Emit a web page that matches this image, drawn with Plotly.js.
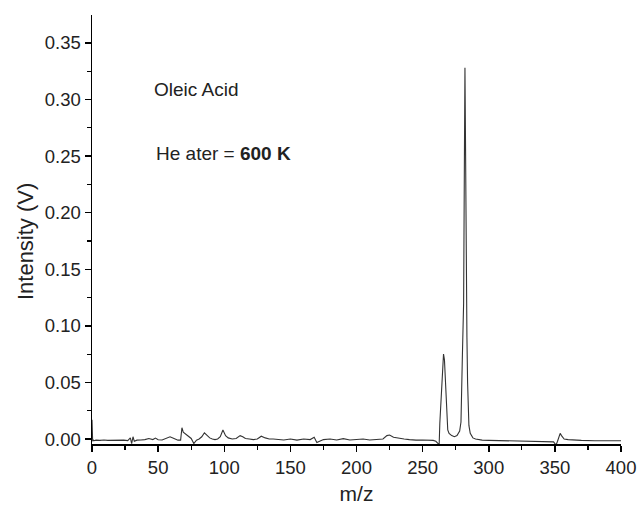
<!DOCTYPE html>
<html>
<head>
<meta charset="utf-8">
<script src="https://cdn.plot.ly/plotly-3.0.1.min.js"></script>
<style>html,body{margin:0;padding:0;background:#fff;}#chart{width:637px;height:505px;}</style>
</head>
<body>
<div id="chart"></div>
<script>
const mz = [0, 0.5, 1, 1.5, 3, 6, 9, 12, 15, 18, 21, 24, 27, 29, 30, 31, 32, 34, 37, 40, 43, 46, 48, 50, 53, 56, 59, 62, 65, 67, 68, 69, 71, 73, 75, 77, 79, 81, 83, 85, 87, 89, 91, 93, 95, 97, 99, 100, 101, 103, 106, 109, 112, 114, 116, 119, 122, 125, 128, 131, 134, 137, 140, 145, 150, 155, 160, 165, 168, 170, 175, 180, 185, 190, 195, 200, 205, 210, 215, 220, 223, 225, 228, 232, 236, 240, 245, 250, 255, 258, 260, 261, 262, 262.5, 263, 264, 265, 265.8, 266.5, 267, 268, 269, 270, 272, 274, 276, 278, 279, 280, 280.5, 281, 281.6, 282, 282.5, 283, 283.5, 284, 284.5, 285, 286, 288, 290, 295, 300, 310, 320, 330, 340, 345, 349, 350, 351, 352, 353, 354, 355, 357, 360, 365, 370, 380, 390, 400];
const intensity = [0.017, -0.002, -0.001, -0.0015, -0.001, -0.0012, -0.0008, -0.0012, -0.001, -0.0008, -0.0012, -0.001, -0.0014, 0.001, -0.004, 0.002, -0.002, -0.001, -0.0008, -0.0005, 0.0005, -0.0005, 0.0008, -0.0006, -0.0008, 0.0005, 0.002, 0.0005, -0.001, -0.001, 0.010, 0.006, 0.004, 0.002, 0.0005, -0.004, -0.001, 0.000, 0.002, 0.0055, 0.003, 0.001, 0.000, -0.0005, 0.000, 0.002, 0.008, 0.006, 0.003, 0.001, 0.000, 0.0005, 0.003, 0.002, 0.0005, 0.000, -0.0005, 0.000, 0.0025, 0.001, 0.000, 0.000, -0.0005, -0.0008, 0.000, -0.001, 0.000, -0.0005, 0.0015, -0.003, -0.0005, 0.000, -0.0008, 0.0003, -0.0008, -0.0005, 0.000, -0.0008, -0.0005, 0.000, 0.003, 0.0035, 0.0015, 0.0005, 0.000, -0.0005, -0.001, -0.0008, -0.001, -0.0012, -0.002, -0.003, -0.004, -0.005, 0.014, 0.04, 0.065, 0.075, 0.07, 0.055, 0.025, 0.008, 0.005, 0.003, 0.002, 0.003, 0.007, 0.015, 0.07, 0.112, 0.12, 0.25, 0.328, 0.25, 0.14, 0.09, 0.05, 0.025, 0.012, 0.005, 0.001, 0.000, -0.001, -0.0012, -0.0015, -0.0015, -0.0018, -0.0018, -0.002, -0.0025, -0.004, -0.005, -0.002, 0.002, 0.005, 0.003, 0.000, -0.0005, -0.001, -0.0012, -0.0015, -0.0015, -0.0015];
const xTitle = "m/z";
const yTitle = "Intensity (V)";
const label1 = "Oleic Acid";
const label2 = "He ater = <b>600 K</b>";

const font = "Liberation Sans, Arial, sans-serif";
Plotly.newPlot("chart", [{
  x: mz, y: intensity, type: "scatter", mode: "lines",
  line: {color: "#333333", width: 1.1}, hoverinfo: "skip"
}], {
  width: 637, height: 505,
  margin: {l: 92, r: 16, t: 15, b: 61},
  paper_bgcolor: "#fff", plot_bgcolor: "#fff",
  showlegend: false,
  font: {family: font, color: "#222", size: 18},
  xaxis: {
    range: [0, 400], showgrid: false, zeroline: false,
    showline: true, linecolor: "#000", linewidth: 1.5,
    ticks: "outside", ticklen: 6, tickwidth: 1.5, tickcolor: "#000",
    dtick: 50, tick0: 0,
    minor: {ticks: "outside", ticklen: 4, tickwidth: 1.2, tickcolor: "#000", dtick: 25},
    tickfont: {size: 18.5, family: font, color: "#222"},
    title: {text: xTitle, font: {size: 21, family: font, color: "#222"}, standoff: 11}
  },
  yaxis: {
    range: [-0.0044, 0.3747], showgrid: false, zeroline: false,
    showline: true, linecolor: "#000", linewidth: 1.5,
    ticks: "outside", ticklen: 6, tickwidth: 1.5, tickcolor: "#000",
    dtick: 0.05, tick0: 0, tickformat: ".2f",
    minor: {ticks: "outside", ticklen: 4, tickwidth: 1.2, tickcolor: "#000", dtick: 0.025},
    tickfont: {size: 18.5, family: font, color: "#222"}
  },
  annotations: [
    {x: -0.1267, y: 0.473, xref: "paper", yref: "paper", text: yTitle, textangle: -90, showarrow: false, xanchor: "center", yanchor: "middle", font: {size: 22, family: font, color: "#222"}},
    {x: 45.5, y: 0.309, xref: "x", yref: "y", text: label1, showarrow: false, xanchor: "left", yanchor: "middle", font: {size: 19, family: font, color: "#222"}},
    {x: 46.5, y: 0.2527, xref: "x", yref: "y", text: label2, showarrow: false, xanchor: "left", yanchor: "middle", font: {size: 19, family: font, color: "#222"}}
  ]
}, {staticPlot: true});
</script>
</body>
</html>
